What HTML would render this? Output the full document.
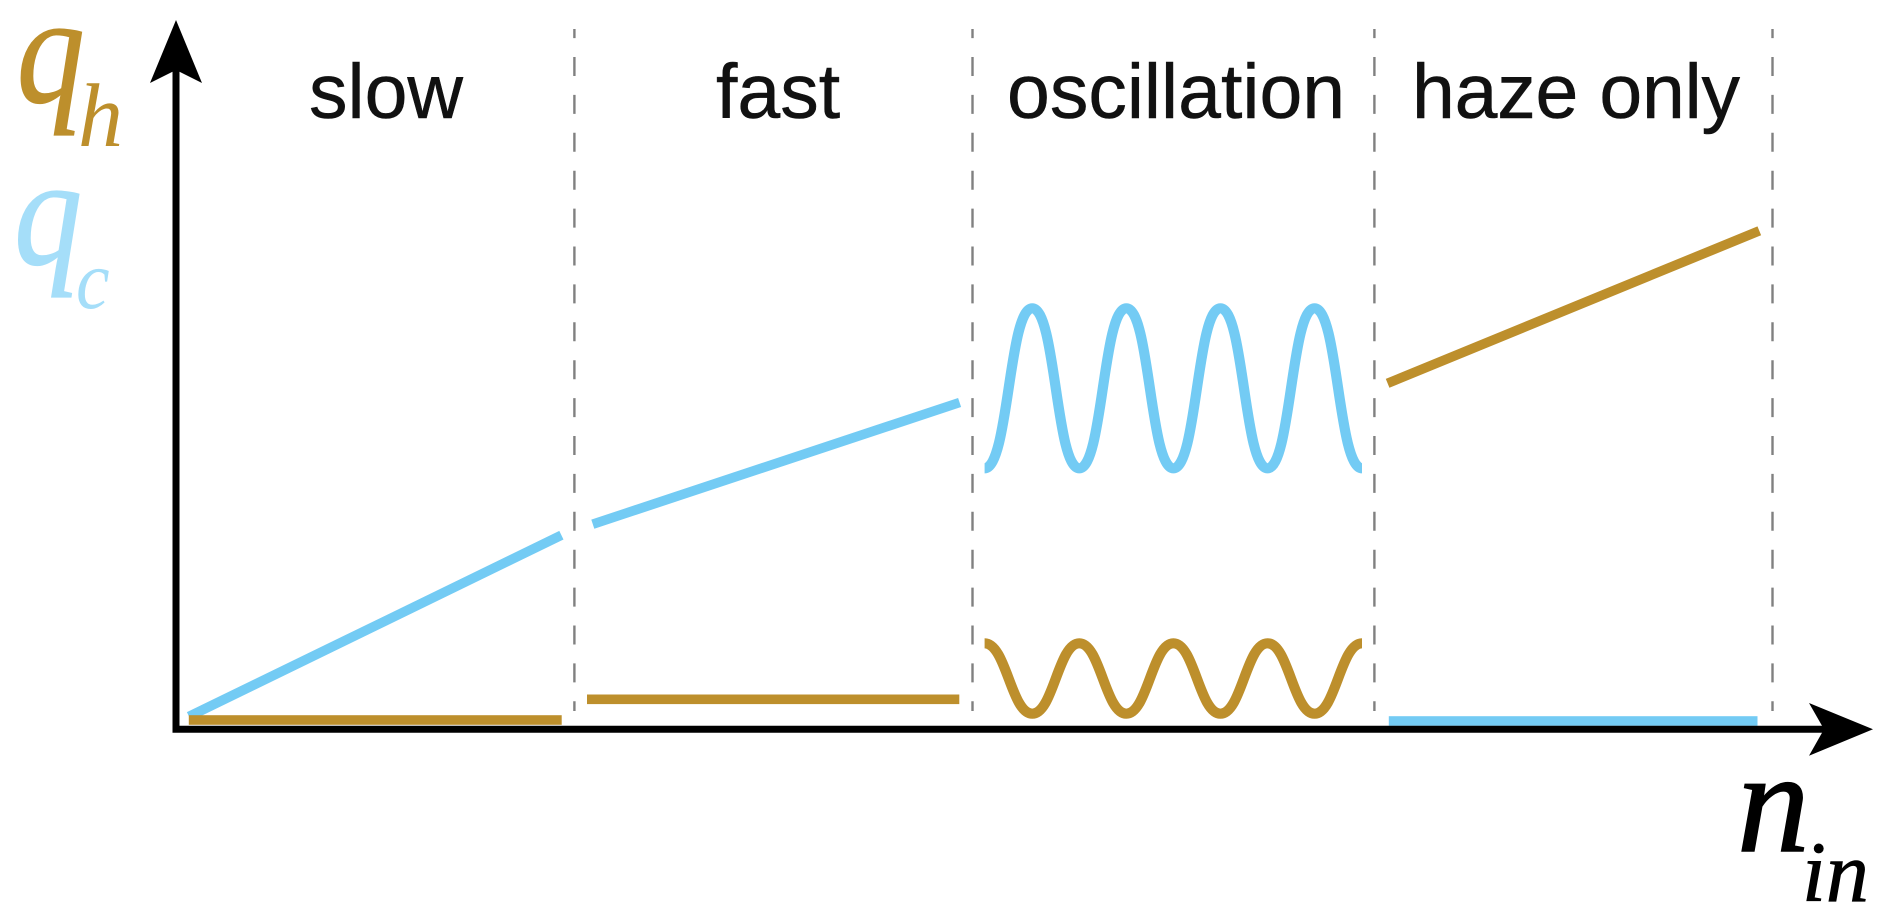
<!DOCTYPE html>
<html>
<head>
<meta charset="utf-8">
<style>
html,body{margin:0;padding:0;background:#fff;width:1892px;height:921px;overflow:hidden}
svg{display:block}
.t{font-family:"Liberation Sans",sans-serif;font-size:77px;fill:#111;stroke:#111;stroke-width:.5}
.m{font-family:"Liberation Serif",serif;font-style:italic}
</style>
</head>
<body>
<svg width="1892" height="921" viewBox="0 0 1892 921" xmlns="http://www.w3.org/2000/svg">
<rect width="1892" height="921" fill="#fff"/>
<g stroke="#808080" stroke-width="2.4" stroke-dasharray="19 18.9" stroke-dashoffset="9.9" fill="none">
<line x1="574.4" y1="29" x2="574.4" y2="711"/>
<line x1="972.5" y1="29" x2="972.5" y2="711"/>
<line x1="1374.4" y1="29" x2="1374.4" y2="711"/>
<line x1="1772.5" y1="29" x2="1772.5" y2="711"/>
</g>
<g fill="none" stroke="#73CBF4">
<line x1="189" y1="716.5" x2="561.4" y2="535.2" stroke-width="9.6"/>
<line x1="592.8" y1="524.2" x2="959.6" y2="402.5" stroke-width="9.6"/>
<path stroke-width="10.2" d="M984.6 468.3C1008.7 468.3 1008.75 308.3 1032.25 308.3S1055.8 468.3 1079.3 468.3S1102.85 308.3 1126.35 308.3S1149.9 468.3 1173.4 468.3S1196.95 308.3 1220.45 308.3S1244 468.3 1267.5 468.3S1291.05 308.3 1314.55 308.3S1338.1 468.3 1362 468.3"/>
</g>
<rect x="1388.8" y="716.2" width="368.7" height="9.6" fill="#73CBF4"/>
<g fill="#BD8F2C">
<rect x="188.8" y="715.2" width="372.9" height="9.6"/>
<rect x="587" y="694.5" width="372.3" height="9.6"/>
</g>
<g fill="none" stroke="#BD8F2C">
<line x1="1387.6" y1="383.3" x2="1759.3" y2="230.8" stroke-width="9.6"/>
<path stroke-width="10.2" d="M984.6 643.3C1006.2 643.3 1011.25 713.7 1032.25 713.7S1058.3 643.3 1079.3 643.3S1105.35 713.7 1126.35 713.7S1152.4 643.3 1173.4 643.3S1199.45 713.7 1220.45 713.7S1246.5 643.3 1267.5 643.3S1293.55 713.7 1314.55 713.7S1340.6 643.3 1362 643.3"/>
</g>
<path d="M176 70V729.3H1824" fill="none" stroke="#000" stroke-width="7"/>
<polygon points="176,20 202,83 176,70 150,83" fill="#000"/>
<polygon points="1873,729.3 1809,755.7 1824,729.3 1809,703" fill="#000"/>
<text class="t" x="309" y="118">slow</text>
<text class="t" x="716" y="118">fast</text>
<text class="t" x="1007" y="118">oscillation</text>
<text class="t" x="1412" y="118" textLength="328">haze only</text>
<text class="m" transform="translate(16.6,102) scale(.88,1)" font-size="155" fill="#BD8F2C" stroke="#BD8F2C" stroke-width="1.2">q</text>
<text class="m" x="78" y="146" font-size="90" fill="#BD8F2C">h</text>
<text class="m" transform="translate(14,264) scale(.88,1)" font-size="155" fill="#A5DEF9" stroke="#A5DEF9" stroke-width="1.2">q</text>
<text class="m" transform="translate(76,308) scale(.9,1)" font-size="84" fill="#A5DEF9">c</text>
<text class="m" x="1737" y="851" font-size="145" fill="#000" stroke="#000" stroke-width="1.5">n</text>
<text class="m" x="1802" y="901" font-size="86" fill="#000" stroke="#000" stroke-width=".8">in</text>
</svg>
</body>
</html>
